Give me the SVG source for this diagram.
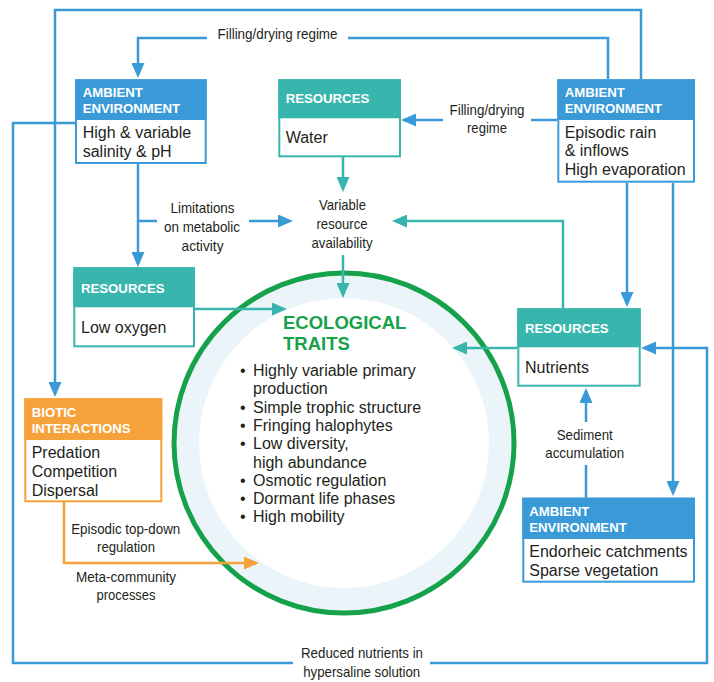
<svg xmlns="http://www.w3.org/2000/svg" width="714" height="682" viewBox="0 0 714 682">
  <style>
    text { font-family: "Liberation Sans", Arial, sans-serif; fill: #231f20; }
    .hd { font-size: 13.2px; font-weight: bold; fill: #ffffff; }
    .bd { font-size: 16px; }
    .lbl { font-size: 15px; text-anchor: middle; }
    .title { font-size: 18.5px; font-weight: bold; fill: #15a24a; }
    .li { font-size: 16px; }
    .blue { stroke: #3a9ad7; stroke-width: 2.5; fill: none; }
    .teal { stroke: #38b6ae; stroke-width: 2.5; fill: none; }
    .orange { stroke: #f5a23b; stroke-width: 2.5; fill: none; }
    .box-blue { fill: #ffffff; stroke: #3a9ad7; stroke-width: 2; }
    .box-teal { fill: #ffffff; stroke: #38b6ae; stroke-width: 2; }
    .box-orange { fill: #ffffff; stroke: #f5a23b; stroke-width: 2; }
    .hf-blue { fill: #3a9ad7; }
    .hf-teal { fill: #38b6ae; }
    .hf-orange { fill: #f5a23b; }
  </style>
  <defs>
    <marker id="ab" viewBox="0 0 15 13" refX="12" refY="6.5" markerWidth="15" markerHeight="13" markerUnits="userSpaceOnUse" orient="auto">
      <path d="M0,0 L15,6.5 L0,13 Z" fill="#3a9ad7"/>
    </marker>
    <marker id="at" viewBox="0 0 15 13" refX="12" refY="6.5" markerWidth="15" markerHeight="13" markerUnits="userSpaceOnUse" orient="auto">
      <path d="M0,0 L15,6.5 L0,13 Z" fill="#38b6ae"/>
    </marker>
    <marker id="ao" viewBox="0 0 15 13" refX="12" refY="6.5" markerWidth="15" markerHeight="13" markerUnits="userSpaceOnUse" orient="auto">
      <path d="M0,0 L15,6.5 L0,13 Z" fill="#f5a23b"/>
    </marker>
  </defs>

  <rect width="714" height="682" fill="#ffffff"/>

  <!-- central ecological traits disc -->
  <g id="traits">
    <circle cx="344" cy="443" r="170" fill="#ebf5f9" stroke="#15a24a" stroke-width="5"/>
    <circle cx="344" cy="443" r="145" fill="#ffffff"/>
    <text class="title" x="283" y="329">ECOLOGICAL</text>
    <text class="title" x="283" y="350">TRAITS</text>
    <text class="li">
      <tspan x="240" y="376">•</tspan><tspan x="253" y="376">Highly variable primary</tspan>
      <tspan x="253" y="394.3">production</tspan>
      <tspan x="240" y="412.6">•</tspan><tspan x="253" y="412.6">Simple trophic structure</tspan>
      <tspan x="240" y="430.9">•</tspan><tspan x="253" y="430.9">Fringing halophytes</tspan>
      <tspan x="240" y="449.2">•</tspan><tspan x="253" y="449.2">Low diversity,</tspan>
      <tspan x="253" y="467.5">high abundance</tspan>
      <tspan x="240" y="485.8">•</tspan><tspan x="253" y="485.8">Osmotic regulation</tspan>
      <tspan x="240" y="504.1">•</tspan><tspan x="253" y="504.1">Dormant life phases</tspan>
      <tspan x="240" y="522.4">•</tspan><tspan x="253" y="522.4">High mobility</tspan>
    </text>
  </g>

  <!-- connectors -->
  <g id="connectors">
    <!-- blue: ambient environment links -->
    <path class="blue" d="M641,79 V10 H55 V394" marker-end="url(#ab)"/>
    <path class="blue" d="M608,79 V38 H348"/>
    <path class="blue" d="M207,38 H138 V75" marker-end="url(#ab)"/>
    <path class="blue" d="M75,123 H13 V663 H293"/>
    <path class="blue" d="M430,663 H707 V348 H644" marker-end="url(#ab)"/>
    <path class="blue" d="M627,183 V304" marker-end="url(#ab)"/>
    <path class="blue" d="M673,183 V493" marker-end="url(#ab)"/>
    <path class="blue" d="M557,120 H531"/>
    <path class="blue" d="M443,120 H404" marker-end="url(#ab)"/>
    <path class="blue" d="M138,164 V264" marker-end="url(#ab)"/>
    <path class="blue" d="M138,221 H157"/>
    <path class="blue" d="M249,221 H290" marker-end="url(#ab)"/>
    <path class="blue" d="M586,498 V465"/>
    <path class="blue" d="M586,422 V391" marker-end="url(#ab)"/>
    <!-- teal: resource links -->
    <path class="teal" d="M343,157 V189" marker-end="url(#at)"/>
    <path class="teal" d="M343,255 V295" marker-end="url(#at)"/>
    <path class="teal" d="M563,308 V221 H395" marker-end="url(#at)"/>
    <path class="teal" d="M195,309 H284" marker-end="url(#at)"/>
    <path class="teal" d="M517,348 H455" marker-end="url(#at)"/>
    <!-- orange: biotic link -->
    <path class="orange" d="M64,502 V563 H256" marker-end="url(#ao)"/>

    <!-- connector labels -->
    <text class="lbl" x="277.5" y="39" textLength="120" lengthAdjust="spacingAndGlyphs">Filling/drying regime</text>
    <text class="lbl" x="487" y="115" textLength="75" lengthAdjust="spacingAndGlyphs">Filling/drying</text>
    <text class="lbl" x="487" y="133" textLength="40" lengthAdjust="spacingAndGlyphs">regime</text>
    <text class="lbl" x="202.5" y="213" textLength="64" lengthAdjust="spacingAndGlyphs">Limitations</text>
    <text class="lbl" x="202" y="232" textLength="76" lengthAdjust="spacingAndGlyphs">on metabolic</text>
    <text class="lbl" x="202.5" y="251" textLength="42" lengthAdjust="spacingAndGlyphs">activity</text>
    <text class="lbl" x="342.5" y="210" textLength="47" lengthAdjust="spacingAndGlyphs">Variable</text>
    <text class="lbl" x="342" y="229" textLength="51" lengthAdjust="spacingAndGlyphs">resource</text>
    <text class="lbl" x="342" y="248" textLength="61" lengthAdjust="spacingAndGlyphs">availability</text>
    <text class="lbl" x="584.7" y="440" textLength="56" lengthAdjust="spacingAndGlyphs">Sediment</text>
    <text class="lbl" x="584.7" y="458" textLength="79" lengthAdjust="spacingAndGlyphs">accumulation</text>
    <text class="lbl" x="125.7" y="534" textLength="109" lengthAdjust="spacingAndGlyphs">Episodic top-down</text>
    <text class="lbl" x="126" y="552" textLength="58" lengthAdjust="spacingAndGlyphs">regulation</text>
    <text class="lbl" x="126" y="582" textLength="100" lengthAdjust="spacingAndGlyphs">Meta-community</text>
    <text class="lbl" x="126" y="600" textLength="59" lengthAdjust="spacingAndGlyphs">processes</text>
    <text class="lbl" x="362" y="658" textLength="122" lengthAdjust="spacingAndGlyphs">Reduced nutrients in</text>
    <text class="lbl" x="361.7" y="677" textLength="117" lengthAdjust="spacingAndGlyphs">hypersaline solution</text>
  </g>

  <!-- nodes -->
  <g id="ambient-salinity">
    <rect class="box-blue" x="76" y="80.3" width="129.7" height="82.7"/>
    <rect class="hf-blue" x="75" y="79.3" width="131.7" height="40.7"/>
    <text class="hd" x="82.7" y="96.7">AMBIENT</text>
    <text class="hd" x="82.7" y="112.7">ENVIRONMENT</text>
    <text class="bd" x="82.7" y="137.7">High &amp; variable</text>
    <text class="bd" x="82.7" y="156.7">salinity &amp; pH</text>
  </g>

  <g id="resources-water">
    <rect class="box-teal" x="279.3" y="80.3" width="120.7" height="76"/>
    <rect class="hf-teal" x="278.3" y="79.3" width="122.7" height="39"/>
    <text class="hd" x="285.7" y="103.3">RESOURCES</text>
    <text class="bd" x="285.7" y="143.3">Water</text>
  </g>

  <g id="ambient-rain">
    <rect class="box-blue" x="558.3" y="80.3" width="135.7" height="101.4"/>
    <rect class="hf-blue" x="557.3" y="79.3" width="137.7" height="40.7"/>
    <text class="hd" x="564.7" y="96.7">AMBIENT</text>
    <text class="hd" x="564.7" y="112.7">ENVIRONMENT</text>
    <text class="bd" x="564.7" y="137.7">Episodic rain</text>
    <text class="bd" x="564.7" y="156.3">&amp; inflows</text>
    <text class="bd" x="564.7" y="175">High evaporation</text>
  </g>

  <g id="resources-oxygen">
    <rect class="box-teal" x="74.3" y="268.3" width="119.7" height="78"/>
    <rect class="hf-teal" x="73.3" y="267.3" width="121.7" height="40"/>
    <text class="hd" x="81" y="293.3">RESOURCES</text>
    <text class="bd" x="81" y="332.7">Low oxygen</text>
  </g>

  <g id="biotic-interactions">
    <rect class="box-orange" x="25.3" y="399.3" width="136" height="102"/>
    <rect class="hf-orange" x="24.3" y="398.3" width="138" height="41.7"/>
    <text class="hd" x="31.7" y="416.7">BIOTIC</text>
    <text class="hd" x="31.7" y="432.7">INTERACTIONS</text>
    <text class="bd" x="31.7" y="458.3">Predation</text>
    <text class="bd" x="31.7" y="477">Competition</text>
    <text class="bd" x="31.7" y="495.7">Dispersal</text>
  </g>

  <g id="resources-nutrients">
    <rect class="box-teal" x="518.3" y="309.3" width="121.4" height="76.4"/>
    <rect class="hf-teal" x="517.3" y="308.3" width="123.4" height="39"/>
    <text class="hd" x="525" y="332.7">RESOURCES</text>
    <text class="bd" x="525" y="373.3">Nutrients</text>
  </g>

  <g id="ambient-catchments">
    <rect class="box-blue" x="523.3" y="498.7" width="170.7" height="83"/>
    <rect class="hf-blue" x="522.3" y="497.7" width="172.7" height="41.3"/>
    <text class="hd" x="529.3" y="515.7">AMBIENT</text>
    <text class="hd" x="529.3" y="531.7">ENVIRONMENT</text>
    <text class="bd" x="529.3" y="556.7">Endorheic catchments</text>
    <text class="bd" x="529.3" y="575.7">Sparse vegetation</text>
  </g>
</svg>
